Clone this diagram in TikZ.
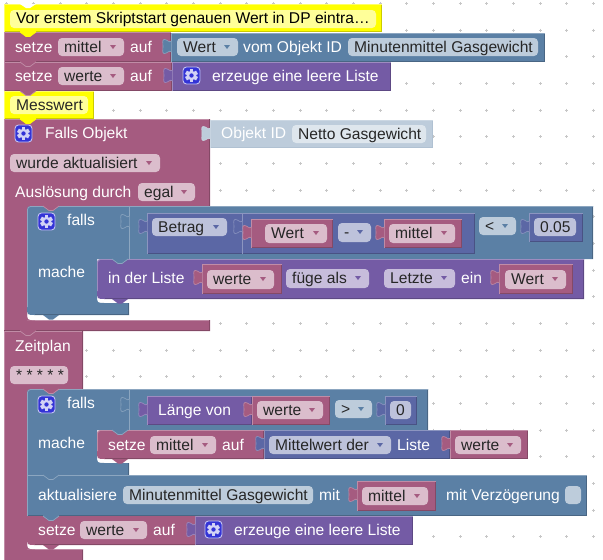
\documentclass[tikz,border=0pt]{standalone}
\usepackage{fontspec}
\setmainfont{Liberation Sans}
\definecolor{mar}{HTML}{A55B80}\definecolor{marL}{HTML}{C08CA6}\definecolor{marD}{HTML}{844966}\definecolor{marF}{HTML}{DBBDCC}
\definecolor{blu}{HTML}{5B80A5}\definecolor{bluL}{HTML}{8CA6C0}\definecolor{bluD}{HTML}{496684}\definecolor{bluF}{HTML}{BDCCDB}
\definecolor{pur}{HTML}{745BA5}\definecolor{purL}{HTML}{9E8CC0}\definecolor{purD}{HTML}{5D4984}\definecolor{purF}{HTML}{C7BDDB}
\definecolor{ind}{HTML}{5B67A5}\definecolor{indL}{HTML}{8C95C0}\definecolor{indD}{HTML}{495284}\definecolor{indF}{HTML}{BDC2DB}
\definecolor{sha}{HTML}{BDCCDB}\definecolor{shaL}{HTML}{CBD7E3}\definecolor{shaD}{HTML}{B0C1D2}\definecolor{shaF}{HTML}{DEE6ED}
\definecolor{yel}{HTML}{FFFF00}\definecolor{yelL}{HTML}{FFFF66}\definecolor{yelD}{HTML}{CCCC00}\definecolor{yelF}{HTML}{FFFF99}
\definecolor{gearbg}{HTML}{3333D6}
\newcounter{nn}
\tikzset{
  lab/.style={anchor=base west,inner sep=0pt,font=\fontsize{15.6}{18}\selectfont},
  edge/.style={line width=.8pt},
}
% text
\newcommand\txt[4][white]{\stepcounter{nn}\node[lab,text=#1] (t\thenn) at (#2,#3) {#4};}
% block: x1 y1 x2 y2 family
\newcommand\blk[5]{\fill[#5] (#1,#2) rectangle (#3,#4);
  \draw[#5D,edge] (#3-.4,#2) -- (#3-.4,#4-.4) -- (#1,#4-.4);
  \draw[#5L,edge] (#1+.4,#4) -- (#1+.4,#2+.4) -- (#3,#2+.4);}
% left rounded block
\newcommand\rblk[5]{\fill[#5] (#1+8,#2) -- (#3,#2) -- (#3,#4) -- (#1+8,#4) .. controls (#1,#4) and (#1,#4) .. (#1,#4-8) -- (#1,#2+8) .. controls (#1,#2) and (#1,#2) .. (#1+8,#2) -- cycle;
  \draw[#5D,edge] (#3-.4,#2) -- (#3-.4,#4-.4) -- (#1+8,#4-.4);
  \draw[#5L,edge] (#3,#2+.4) -- (#1+8,#2+.4) .. controls (#1+.4,#2+.4) and (#1+.4,#2+.4) .. (#1+.4,#2+8) -- (#1+.4,#4-8);}
% puzzle tab: x top fill edge
\newcommand\ptab[4]{\filldraw[fill=#3,draw=#4,line width=.6pt] (#1+.4,#2+3) .. controls (#1-2,#2+5.5) and (#1-4,#2+1) .. (#1-7,#2+1.5) .. controls (#1-9,#2+2) and (#1-8,#2+5) .. (#1-8,#2+8.5) .. controls (#1-8,#2+12) and (#1-9,#2+15) .. (#1-7,#2+15.5) .. controls (#1-4,#2+16) and (#1-2,#2+11.5) .. (#1+.4,#2+14);}
% statement tab: x y fill edge
\newcommand\stab[4]{\fill[#3] (#1,#2-1) -- (#1,#2) -- (#1+6,#2+4.5) -- (#1+10,#2+4.5) -- (#1+16,#2) -- (#1+16,#2-1) -- cycle;
  \draw[#4,line width=.7pt] (#1,#2) -- (#1+6,#2+4.5) -- (#1+10,#2+4.5) -- (#1+16,#2);}
% field: x1 x2 top family text
\newcommand\fldn[6][18]{\fill[#5F,rounded corners=4pt] (#2,#4) rectangle (#3,#4+#1);\txt[black!85]{#2+6}{#4+14}{#6}}
\newcommand\fld[6][18]{\fldn[#1]{#2}{#3}{#4}{#5}{#6}
  \fill[#5] (#3-14,#4+7) -- (#3-8,#4+7) -- (#3-11,#4+11) -- cycle;}
% gear icon: x y
\newcommand\gear[2]{\filldraw[fill=gearbg,draw=white!70!gearbg,line width=.9pt,rounded corners=3.5pt] (#1,#2) rectangle (#1+17,#2+17);
  \foreach \a in {30,90,...,330}{\fill[gearbg!22!white] (#1+8.5,#2+8.5) ++(\a-17:6.7) -- ++(\a+90:3.9) -- ++(\a+180:3) -- ++(\a+270:3.9) -- cycle;}
  \fill[gearbg!22!white] (#1+8.5,#2+8.5) circle (4.8pt);
  \fill[gearbg] (#1+8.5,#2+8.5) circle (2.2pt);}
\begin{document}
\begin{tikzpicture}[x=1pt,y=-1pt]
\useasboundingbox (0,0) rectangle (603,560);
\fill[white] (0,0) rectangle (603,560);
% grid
\foreach \i in {0,...,22}{\foreach \j in {0,...,20}{
  \draw[black!22,line width=.6pt] ({6.67+26.67*\i-1.5},{3.33+26.67*\j}) -- +(3,0) ({6.67+26.67*\i},{3.33+26.67*\j-1.5}) -- +(0,3);}}
% ---- comment 1
\blk{4}{4}{382}{32}{yel}
\fill[white] (20,4) -- (26,8) -- (30,8) -- (36,4) -- cycle;
\fldn{10}{376}{10}{yel}{}
\txt[black]{16}{23}{Vor erstem Skriptstart genauen Wert in DP eintra…}
% ---- setze mittel
\blk{171}{33}{545}{62}{blu}
\blk{4}{32}{171}{62}{mar}
\ptab{171}{38}{blu}{bluL}
\stab{20}{32}{yel}{yel}
\txt{15}{52}{setze}
\fld{58}{124}{38}{mar}{mittel}
\txt{130}{52}{auf}
\fld{177}{238}{38}{blu}{Wert}
\txt{243}{52}{vom Objekt ID}
\fldn{348}{538}{38}{blu}{Minutenmittel Gasgewicht}
% ---- setze werte
\blk{172}{62}{391}{91}{pur}
\blk{4}{62}{172}{91}{mar}
\ptab{172}{67}{pur}{purL}
\stab{20}{62}{mar}{marL}
\txt{15}{81}{setze}
\fld{58}{124}{67}{mar}{werte}
\txt{130}{81}{auf}
\gear{183}{67}
\txt{212}{81}{erzeuge eine leere Liste}
% ---- comment 2
\blk{4}{91}{94}{119}{yel}
\stab{20}{91}{mar}{marL}
\fldn{10}{88}{96}{yel}{Messwert}
% ---- Falls Objekt
\fill[mar] (4,119) -- (210,119) -- (210,206) -- (27,206) -- (27,320) -- (210,320) -- (210,331) -- (4,331) -- cycle;
\fill[mar] (27,206) rectangle (36,215);
\draw[marL,edge] (4.4,331) -- (4.4,119.4) -- (210,119.4);
\draw[marD,edge] (209.6,119) -- (209.6,206);
\draw[marL,edge] (27,320.4) -- (210,320.4);
\draw[marD,edge] (209.6,320) -- (209.6,330.6) -- (4,330.6);
\blk{210}{120}{433}{148}{sha}
\ptab{210}{125}{sha}{shaL}
\stab{20}{119}{yel}{yel}
\gear{15}{125}
\txt{45}{138}{Falls Objekt}
\txt{221}{138}{Objekt ID}
\fldn{292}{426}{125}{sha}{Netto Gasgewicht}
\fld{10}{160}{154}{mar}{wurde aktualisiert}
\txt{15}{197}{Auslösung durch}
\fld{138}{195}{183}{mar}{egal}
% ---- falls 1
\fill[blu] (27,214) .. controls (27,206) and (27,206) .. (35,206) -- (593,206) -- (593,259) -- (97,259) -- (97,295) .. controls (97,303) and (97,303) .. (105,303) -- (129,303) -- (129,315) -- (35,315) .. controls (27,315) and (27,315) .. (27,307) -- cycle;
\fill[mar] (27,312) .. controls (27,320) and (27,320) .. (35,320.5) -- (27,320.5) -- cycle;
\draw[bluD,edge] (592.6,206) -- (592.6,258.6);
\draw[bluD,edge] (129,314.6) -- (35,314.6);
\draw[bluD,edge] (128.6,303) -- (128.6,315);
\draw[bluL,edge] (593,206.4) -- (35,206.4) .. controls (27.4,206.4) and (27.4,206.4) .. (27.4,214) -- (27.4,307);
\draw[bluL,line width=.7pt] (129,206) -- (129,259);
\ptab{129}{213}{blu}{bluL}
\stab{43}{206}{mar}{marL}
\gear{38}{213}
\txt{67}{225}{falls}
\txt{38}{277}{mache}
% Betrag
\blk{147}{213}{475}{254}{ind}
\ptab{147}{218}{ind}{indL}
\fld{152}{227}{218}{ind}{Betrag}
\draw[indL,line width=.7pt] (242,213) -- (242,254);
\ptab{242}{218}{ind}{indL}
\blk{251}{219}{333}{248}{mar}
\ptab{251}{224}{mar}{marL}
\fld[19]{265}{327}{224}{mar}{Wert}
\fld[19]{338}{371}{223}{ind}{-}
\blk{384}{219}{462}{248}{mar}
\ptab{384}{224}{mar}{marL}
\fld[19]{389}{455}{224}{mar}{mittel}
\fld{479}{516}{217}{blu}{<}
\blk{529}{213}{583}{242}{ind}
\ptab{529}{218}{ind}{indL}
\fldn{534}{576}{218}{ind}{0.05}
% in der Liste
\rblk{97}{259}{584}{299}{pur}
\stab{112}{259}{blu}{bluL}
\fill[pur] (112,299) -- (118,303.5) -- (122,303.5) -- (128,299) -- cycle;
\txt{108}{283}{in der Liste}
\blk{202}{264}{282}{294}{mar}
\ptab{202}{269}{mar}{marL}
\fld[19]{207}{274}{270}{mar}{werte}
\fld[19]{286}{369}{269}{pur}{füge als}
\fld[19]{384}{455}{269}{pur}{Letzte}
\txt{461}{283}{ein}
\blk{499}{264}{573}{294}{mar}
\ptab{499}{269}{mar}{marL}
\fld[19]{505}{566}{270}{mar}{Wert}
\fill[blu] (43,315) -- (49,319.5) -- (53,319.5) -- (59,315) -- cycle;
% ---- Zeitplan
\fill[mar] (4,331) -- (83,331) -- (83,389) -- (27,389) -- (27,549) -- (83,549) -- (83,560) -- (4,560) -- cycle;
\fill[mar] (27,389) rectangle (36,398);
\draw[marL,edge] (4.4,560) -- (4.4,331.4) -- (83,331.4);
\draw[marD,edge] (82.6,331) -- (82.6,389);
\draw[marD,edge] (82.6,549) -- (82.6,560);
\draw[marL,edge] (27,549.4) -- (83,549.4);
\stab{20}{331}{mar}{marL}
\txt{15}{351}{Zeitplan}
\fldn{10}{68}{366}{mar}{* * * * *}
% ---- falls 2
\fill[blu] (27,397) .. controls (27,389) and (27,389) .. (35,389) -- (428,389) -- (428,430) -- (97,430) -- (97,455) .. controls (97,463) and (97,463) .. (105,463) -- (129,463) -- (129,475) -- (27,475) -- cycle;
\draw[bluD,edge] (427.6,389) -- (427.6,430);
\draw[bluD,edge] (128.6,463) -- (128.6,475);
\draw[bluL,edge] (428,389.4) -- (35,389.4) .. controls (27.4,389.4) and (27.4,389.4) .. (27.4,397) -- (27.4,475);
\draw[bluL,line width=.7pt] (129,389) -- (129,430);
\ptab{129}{396}{blu}{bluL}
\stab{43}{389}{mar}{marL}
\gear{38}{396}
\txt{67}{408}{falls}
\txt{38}{448}{mache}
\blk{147}{396}{252}{425}{pur}
\ptab{147}{401}{pur}{purL}
\txt{158}{415}{Länge von}
\blk{252}{396}{330}{425}{mar}
\ptab{252}{401}{mar}{marL}
\fld{257}{323}{401}{mar}{werte}
\fld{335}{372}{400}{blu}{>}
\blk{385}{396}{417}{425}{ind}
\ptab{385}{401}{ind}{indL}
\fldn{390}{411}{401}{ind}{0}
% setze mittel 2
\blk{264}{430}{450}{459}{ind}
\rblk{97}{430}{264}{459}{mar}
\ptab{264}{435}{ind}{indL}
\stab{112}{430}{blu}{bluL}
\fill[mar] (112,459) -- (118,463.5) -- (122,463.5) -- (128,459) -- cycle;
\txt{108}{450}{setze}
\fld{150}{216}{436}{mar}{mittel}
\txt{222}{450}{auf}
\fld{269}{391}{436}{ind}{Mittelwert der}
\txt{397}{450}{Liste}
\blk{450}{430}{528}{459}{mar}
\ptab{450}{435}{mar}{marL}
\fld{455}{521}{436}{mar}{werte}
% aktualisiere
\blk{27}{475}{587}{516}{blu}
\stab{43}{475}{blu}{bluL}
\txt{38}{500}{aktualisiere}
\fldn{123}{313}{486}{blu}{Minutenmittel Gasgewicht}
\txt{319}{500}{mit}
\blk{357}{481}{436}{511}{mar}
\ptab{357}{486}{mar}{marL}
\fld{362}{428}{487}{mar}{mittel}
\txt{446}{500}{mit Verzögerung}
\fldn{565}{581}{486}{blu}{}
% setze werte 2
\blk{195}{516}{413}{545}{pur}
\fill[mar] (27,516) -- (195,516) -- (195,545) -- (35,545) .. controls (27,545) and (27,545) .. (27,537) -- cycle;
\fill[mar] (27,541) .. controls (27,549) and (27,549) .. (35,549.5) -- (27,549.5) -- cycle;
\fill[mar] (43,545) -- (49,549.5) -- (53,549.5) -- (59,545) -- cycle;
\draw[marD,edge] (35,544.6) -- (195,544.6);
\ptab{195}{521}{pur}{purL}
\stab{43}{516}{blu}{bluL}
\txt{38}{535}{setze}
\fld{80}{147}{521}{mar}{werte}
\txt{153}{535}{auf}
\gear{205}{521}
\txt{234}{535}{erzeuge eine leere Liste}
\end{tikzpicture}
\end{document}
